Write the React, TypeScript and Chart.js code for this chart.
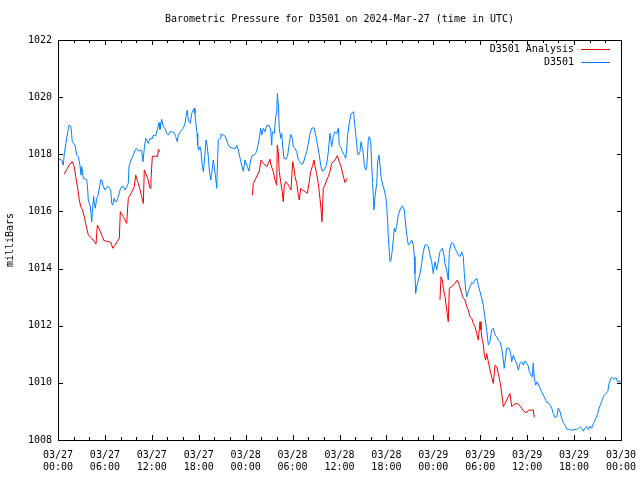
import React, { useEffect, useRef } from "react";
import { Chart, registerables } from "chart.js";

Chart.register(...registerables);

const TITLE = "Barometric Pressure for D3501 on 2024-Mar-27 (time in UTC)";
const Y_LABEL = "milliBars";
const ANALYSIS_LABEL = "D3501 Analysis";
const OBS_LABEL = "D3501";

// x axis: hours since 2024-03-27 00:00 UTC
const X_MIN = 0;
const X_MAX = 72;
const Y_MIN = 1008;
const Y_MAX = 1022;
const Y_STEP = 2;
const X_MAJOR_STEP = 6;
const X_MINOR_STEP = 2;

const xTickDates = ["03/27", "03/27", "03/27", "03/27", "03/28", "03/28", "03/28", "03/28", "03/29", "03/29", "03/29", "03/29", "03/30"];
const xTickTimes = ["00:00", "06:00", "12:00", "18:00", "00:00", "06:00", "12:00", "18:00", "00:00", "06:00", "12:00", "18:00", "00:00"];

// Observed pressure (D3501)
const obsHours = [
  0.00, 0.26, 0.47, 0.68, 0.81, 1.11, 1.41, 1.66, 1.83, 2.17, 2.39, 2.60, 2.81, 2.94, 3.03, 3.24, 3.67, 3.80, 3.87, 4.09,
  4.22, 4.31, 4.44, 4.57, 4.64, 4.77, 4.95, 5.08, 5.24, 5.46, 5.59, 5.72, 6.01, 6.23, 6.43, 6.56, 6.74, 6.87, 7.00, 7.16,
  7.29, 7.51, 7.71, 7.93, 8.15, 8.35, 8.57, 8.79, 8.99, 9.08, 9.34, 9.63, 9.85, 10.06, 10.27, 10.49, 10.70, 10.87, 11.04, 11.22,
  11.34, 11.55, 11.77, 12.02, 12.19, 12.49, 12.75, 12.92, 13.04, 13.26, 13.47, 13.68, 13.90, 14.11, 14.32, 14.54, 14.83, 15.05, 15.26, 15.38,
  15.60, 15.82, 16.02, 16.24, 16.37, 16.53, 16.66, 16.79, 16.92, 17.10, 17.30, 17.43, 17.52, 17.61, 17.78, 17.87, 17.99, 18.16, 18.29, 18.46,
  18.59, 18.80, 18.93, 19.09, 19.22, 19.35, 19.53, 19.66, 19.86, 19.99, 20.17, 20.30, 20.42, 20.50, 20.72, 20.84, 21.14, 21.36, 21.57, 21.78,
  22.00, 22.42, 22.73, 22.85, 23.06, 23.27, 23.49, 23.70, 23.91, 24.21, 24.43, 24.64, 24.85, 25.07, 25.28, 25.49, 25.71, 25.92, 26.05, 26.26,
  26.47, 26.69, 26.98, 27.20, 27.33, 27.41, 27.66, 27.84, 27.97, 28.05, 28.18, 28.30, 28.48, 28.61, 28.74, 28.90, 29.16, 29.37, 29.58, 29.76,
  29.97, 30.09, 30.31, 30.53, 30.73, 30.95, 31.16, 31.37, 31.59, 31.80, 32.01, 32.23, 32.44, 32.74, 33.00, 33.21, 33.42, 33.59, 33.80, 34.02,
  34.27, 34.44, 34.57, 34.78, 35.00, 35.21, 35.42, 35.64, 35.85, 35.97, 36.15, 36.36, 36.62, 36.79, 36.92, 37.04, 37.21, 37.43, 37.64, 37.81,
  37.89, 38.07, 38.20, 38.28, 38.40, 38.62, 38.75, 38.92, 39.04, 39.17, 39.35, 39.48, 39.68, 39.81, 39.99, 40.12, 40.24, 40.41, 40.54, 40.76,
  40.88, 41.05, 41.18, 41.31, 41.53, 41.73, 41.91, 42.04, 42.16, 42.24, 42.46, 42.59, 42.75, 42.88, 43.01, 43.14, 43.31, 43.52, 43.74, 43.95,
  44.08, 44.29, 44.46, 44.63, 44.80, 45.02, 45.23, 45.44, 45.57, 45.65, 45.74, 45.87, 46.08, 46.30, 46.51, 46.72, 46.93, 47.15, 47.36, 47.57,
  47.79, 47.99, 48.21, 48.43, 48.63, 48.85, 49.15, 49.36, 49.49, 49.71, 49.91, 50.04, 50.22, 50.35, 50.55, 50.77, 50.99, 51.19, 51.41, 51.63,
  51.83, 51.96, 52.14, 52.27, 52.47, 52.69, 52.91, 53.11, 53.33, 53.55, 53.75, 53.97, 54.19, 54.39, 54.61, 54.83, 55.03, 55.25, 55.46, 55.67,
  55.89, 56.10, 56.31, 56.53, 56.74, 56.95, 57.07, 57.25, 57.38, 57.72, 57.89, 58.02, 58.23, 58.45, 58.66, 58.87, 59.09, 59.30, 59.51, 59.73,
  59.94, 60.14, 60.27, 60.49, 60.65, 60.78, 60.91, 61.09, 61.26, 61.42, 61.64, 61.86, 62.06, 62.28, 62.50, 62.70, 62.92, 63.14, 63.34, 63.56,
  63.78, 63.98, 64.20, 64.42, 64.62, 64.84, 65.06, 65.26, 65.48, 65.70, 65.90, 66.12, 66.34, 66.54, 66.76, 66.97, 67.18, 67.40, 67.61, 67.82,
  68.04, 68.25, 68.38, 68.59, 68.80, 69.02, 69.19, 69.44, 69.66, 69.86, 70.08, 70.30, 70.47, 70.72, 70.89, 71.12, 71.34, 71.59, 71.79, 72.00,
];
const obsPressure = [
  1017.85, 1017.82, 1017.80, 1017.62, 1018.03, 1018.56, 1019.02, 1018.97, 1018.44, 1018.32, 1017.97, 1017.92, 1017.62, 1017.27, 1017.57, 1017.16, 1017.12, 1016.75, 1016.40, 1016.22,
  1015.93, 1015.64, 1016.17, 1016.52, 1016.28, 1016.11, 1016.46, 1016.52, 1016.75, 1017.10, 1017.12, 1016.92, 1016.75, 1016.84, 1016.87, 1016.81, 1016.75, 1016.28, 1016.22, 1016.46,
  1016.36, 1016.34, 1016.52, 1016.75, 1016.87, 1016.87, 1016.75, 1016.87, 1016.98, 1017.57, 1017.80, 1017.97, 1018.15, 1018.21, 1018.11, 1018.15, 1018.13, 1017.74, 1018.21, 1018.56,
  1018.50, 1018.38, 1018.56, 1018.53, 1018.67, 1018.64, 1018.91, 1019.11, 1018.87, 1019.22, 1018.97, 1018.91, 1018.73, 1018.67, 1018.79, 1018.79, 1018.76, 1018.62, 1018.44, 1018.67,
  1018.76, 1018.85, 1018.91, 1019.08, 1019.32, 1019.55, 1019.20, 1019.14, 1019.08, 1019.43, 1019.55, 1019.61, 1019.43, 1019.14, 1018.73, 1018.32, 1018.15, 1018.27, 1018.09, 1017.57,
  1017.39, 1018.03, 1018.50, 1018.27, 1017.92, 1017.45, 1017.10, 1017.33, 1017.80, 1017.57, 1017.16, 1016.81, 1017.92, 1018.50, 1018.56, 1018.71, 1018.67, 1018.64, 1018.50, 1018.32,
  1018.24, 1018.21, 1018.21, 1018.32, 1018.15, 1017.88, 1017.62, 1017.41, 1017.80, 1017.57, 1017.41, 1017.80, 1017.97, 1017.97, 1018.03, 1018.21, 1018.50, 1018.91, 1018.67, 1018.91,
  1018.79, 1019.00, 1019.02, 1018.85, 1018.32, 1018.79, 1018.73, 1019.32, 1019.43, 1020.13, 1019.72, 1018.91, 1018.56, 1018.73, 1018.27, 1017.86, 1017.83, 1017.97, 1018.38, 1018.70,
  1018.56, 1018.27, 1018.21, 1018.09, 1017.80, 1017.74, 1017.65, 1017.68, 1017.92, 1018.09, 1018.38, 1018.73, 1018.91, 1018.93, 1018.62, 1018.27, 1017.97, 1017.62, 1017.41, 1017.45,
  1017.57, 1017.80, 1018.09, 1018.73, 1018.27, 1018.62, 1018.79, 1018.73, 1018.91, 1018.32, 1018.27, 1018.09, 1017.97, 1017.86, 1018.15, 1018.67, 1019.02, 1019.37, 1019.46, 1019.49,
  1019.20, 1018.73, 1018.38, 1018.09, 1017.97, 1018.09, 1018.44, 1018.21, 1018.03, 1017.62, 1017.45, 1017.51, 1018.50, 1018.62, 1018.44, 1017.62, 1016.98, 1016.05, 1016.52, 1016.98,
  1017.74, 1017.97, 1017.62, 1017.22, 1016.92, 1016.75, 1016.52, 1016.17, 1015.64, 1015.12, 1014.24, 1014.30, 1014.65, 1015.00, 1015.41, 1015.29, 1015.47, 1015.88, 1016.05, 1016.17,
  1016.19, 1016.05, 1015.52, 1015.12, 1014.83, 1014.88, 1015.00, 1014.83, 1014.42, 1013.83, 1013.13, 1013.37, 1013.60, 1013.83, 1014.18, 1014.59, 1014.83, 1014.83, 1014.77, 1014.47,
  1014.24, 1013.83, 1014.24, 1013.95, 1014.24, 1014.59, 1014.71, 1014.47, 1014.18, 1013.95, 1013.60, 1014.53, 1014.83, 1014.90, 1014.88, 1014.71, 1014.59, 1014.47, 1014.42, 1014.59,
  1014.42, 1013.83, 1013.25, 1013.02, 1013.19, 1013.37, 1013.51, 1013.48, 1013.60, 1013.66, 1013.42, 1013.19, 1012.96, 1012.72, 1012.26, 1011.85, 1011.33, 1011.44, 1011.85, 1011.91,
  1011.67, 1011.62, 1011.50, 1011.44, 1011.21, 1010.80, 1010.51, 1010.92, 1011.21, 1011.21, 1011.03, 1010.74, 1010.97, 1010.80, 1010.68, 1010.45, 1010.68, 1010.74, 1010.62, 1010.77,
  1010.68, 1010.59, 1010.39, 1010.27, 1010.21, 1010.70, 1010.16, 1009.92, 1010.04, 1009.96, 1009.81, 1009.69, 1009.57, 1009.46, 1009.31, 1009.31, 1009.22, 1009.11, 1008.93, 1008.79,
  1008.81, 1009.11, 1008.99, 1008.76, 1008.61, 1008.52, 1008.38, 1008.38, 1008.37, 1008.33, 1008.37, 1008.37, 1008.37, 1008.41, 1008.47, 1008.41, 1008.31, 1008.41, 1008.47, 1008.37,
  1008.49, 1008.41, 1008.52, 1008.64, 1008.76, 1008.93, 1009.11, 1009.28, 1009.46, 1009.57, 1009.63, 1009.69, 1009.98, 1010.16, 1010.19, 1010.12, 1010.19, 1010.04, 1010.07, 1009.96,
];

// Analysis pressure (D3501 Analysis) - three separate runs
const analysisHours = [
  0.81, 1.11, 1.53, 1.83, 2.08, 2.26, 2.52, 2.69, 2.90, 3.11, 3.36, 3.54, 3.87, 4.31, 4.64, 4.86, 5.03, 5.37, 5.67, 5.88,
  6.43, 6.78, 7.00, 7.29, 7.71, 7.84, 7.97, 8.35, 8.79, 8.99, 9.34, 9.76, 9.94, 10.19, 10.45, 10.70, 10.91, 11.04, 11.47, 11.77,
  11.89, 12.06, 12.49, 12.75, 12.83, 13.00,
  24.85, 24.98, 25.19, 25.49, 25.75, 25.96, 26.26, 26.69, 26.90, 27.11, 27.24, 27.53, 27.75, 27.97, 28.04, 28.17, 28.30, 28.48, 28.68, 28.81,
  28.94, 29.12, 29.32, 29.58, 29.80, 30.01, 30.18, 30.31, 30.53, 30.73, 30.86, 31.04, 31.29, 31.59, 31.88, 32.10, 32.32, 32.57, 32.74, 32.87,
  33.08, 33.29, 33.50, 33.63, 33.76, 33.93, 34.14, 34.36, 34.57, 34.78, 35.00, 35.42, 35.72, 35.97, 36.19, 36.41, 36.70, 37.00,
  48.85, 48.98, 49.15, 49.28, 49.49, 49.71, 49.91, 50.04, 50.35, 50.77, 51.07, 51.32, 51.63, 51.83, 52.05, 52.27, 52.47, 52.69, 52.91, 53.11,
  53.33, 53.55, 53.75, 53.97, 54.09, 54.22, 54.39, 54.52, 54.69, 54.83, 55.03, 55.25, 55.46, 55.67, 55.89, 56.10, 56.31, 56.53, 56.74, 56.95,
  57.16, 57.38, 57.59, 57.80, 58.02, 58.23, 58.45, 58.75, 59.00, 59.30, 59.63, 59.85, 60.14, 60.36, 60.78, 60.91,
];
const analysisPressure = [
  1017.31, 1017.47, 1017.66, 1017.74, 1017.57, 1017.22, 1016.81, 1016.46, 1016.17, 1016.07, 1015.82, 1015.58, 1015.18, 1015.06, 1014.94, 1014.86, 1015.52, 1015.32, 1015.12, 1014.98,
  1014.94, 1014.91, 1014.71, 1014.82, 1015.00, 1015.06, 1015.99, 1015.82, 1015.58, 1016.46, 1016.63, 1016.87, 1017.27, 1017.04, 1016.81, 1016.52, 1016.28, 1017.45, 1017.16, 1016.81,
  1017.10, 1017.92, 1017.94, 1017.92, 1018.17, 1018.09,
  1016.57, 1016.98, 1017.10, 1017.27, 1017.41, 1017.80, 1017.68, 1017.57, 1017.68, 1017.83, 1017.62, 1017.39, 1017.10, 1016.92, 1018.32, 1018.09, 1017.39, 1017.04, 1016.69, 1016.34,
  1016.92, 1017.04, 1016.98, 1016.87, 1016.75, 1017.74, 1017.51, 1017.22, 1016.98, 1016.57, 1016.40, 1016.81, 1016.75, 1016.69, 1016.63, 1016.98, 1017.39, 1017.62, 1017.80, 1017.57,
  1017.33, 1016.98, 1016.46, 1016.11, 1015.64, 1016.81, 1016.92, 1017.10, 1017.22, 1017.39, 1017.68, 1017.80, 1017.95, 1017.74, 1017.57, 1017.33, 1017.01, 1017.16,
  1012.90, 1013.71, 1013.60, 1013.31, 1013.02, 1012.55, 1012.14, 1013.31, 1013.37, 1013.48, 1013.60, 1013.42, 1013.13, 1012.96, 1012.90, 1012.67, 1012.55, 1012.32, 1012.26, 1012.08,
  1011.97, 1011.73, 1011.50, 1012.14, 1011.85, 1011.56, 1011.33, 1010.97, 1010.80, 1011.03, 1010.74, 1010.45, 1010.21, 1009.98, 1010.62, 1010.57, 1010.33, 1010.04, 1009.63, 1009.17,
  1009.28, 1009.40, 1009.51, 1009.63, 1009.17, 1009.22, 1009.26, 1009.28, 1009.22, 1009.11, 1008.99, 1008.96, 1009.03, 1009.05, 1009.05, 1008.79,
];

const ANALYSIS_COLOR = "#ee0000";
const OBS_COLOR = "#0080ff";
const FONT_FAMILY = "'DejaVu Sans Mono', 'Liberation Mono', monospace";

function toPoints(hours: number[], values: number[], maxGap: number) {
  const pts: { x: number; y: number | null }[] = [];
  for (let i = 0; i < hours.length; i++) {
    if (i > 0 && hours[i] - hours[i - 1] > maxGap) {
      pts.push({ x: (hours[i] + hours[i - 1]) / 2, y: null });
    }
    pts.push({ x: hours[i], y: values[i] });
  }
  return pts;
}

const frameAndLegend = {
  id: "frameAndLegend",
  afterDraw(chart: any) {
    const { ctx, chartArea, scales } = chart;
    const { left, right, top, bottom } = chartArea;
    const xs = scales.x;
    const ys = scales.y;
    const L = Math.round(left);
    const R = Math.round(right);
    const T = Math.round(top);
    const B = Math.round(bottom);
    ctx.save();
    ctx.strokeStyle = "#000";
    ctx.lineWidth = 1;
    ctx.beginPath();
    ctx.rect(L + 0.5, T + 0.5, R - L, B - T);
    ctx.stroke();

    // tick marks (inward, mirrored)
    ctx.beginPath();
    for (let h = X_MIN; h <= X_MAX; h += X_MINOR_STEP) {
      const px = Math.round(xs.getPixelForValue(h)) + 0.5;
      const len = h % X_MAJOR_STEP === 0 ? 5 : 3;
      ctx.moveTo(px, B);
      ctx.lineTo(px, B - len);
      ctx.moveTo(px, T);
      ctx.lineTo(px, T + len);
    }
    for (let v = Y_MIN; v <= Y_MAX; v += Y_STEP) {
      const py = Math.round(ys.getPixelForValue(v)) + 0.5;
      ctx.moveTo(L, py);
      ctx.lineTo(L + 5, py);
      ctx.moveTo(R + 1, py);
      ctx.lineTo(R + 1 - 5, py);
    }
    ctx.stroke();

    // legend inside the plot, top right
    ctx.font = `10px ${FONT_FAMILY}`;
    ctx.textAlign = "right";
    ctx.textBaseline = "middle";
    chart.data.datasets.forEach((ds: any, i: number) => {
      const y = T + 9.5 + i * 13;
      ctx.fillStyle = "#000";
      ctx.fillText(ds.label, R - 47, y);
      ctx.strokeStyle = ds.borderColor;
      ctx.beginPath();
      ctx.moveTo(R - 40, y);
      ctx.lineTo(R - 11, y);
      ctx.stroke();
    });
    ctx.restore();
  },
};

export default function App() {
  const ref = useRef<HTMLCanvasElement>(null);

  useEffect(() => {
    if (!ref.current) return;
    const font = { family: FONT_FAMILY, size: 10, weight: "normal" as const };
    const chart = new Chart(ref.current, {
      type: "line",
      data: {
        datasets: [
          {
            label: ANALYSIS_LABEL,
            data: toPoints(analysisHours, analysisPressure, 3),
            borderColor: ANALYSIS_COLOR,
            borderWidth: 1,
            pointRadius: 0,
            tension: 0,
            spanGaps: false,
            fill: false,
          },
          {
            label: OBS_LABEL,
            data: toPoints(obsHours, obsPressure, 3),
            borderColor: OBS_COLOR,
            borderWidth: 1,
            pointRadius: 0,
            tension: 0,
            spanGaps: false,
            fill: false,
          },
        ],
      },
      options: {
        responsive: false,
        animation: false,
        devicePixelRatio: 1,
        layout: { padding: { left: 0, right: 19, top: 0, bottom: 0 } },
        plugins: {
          legend: { display: false },
          tooltip: { enabled: false },
          title: {
            display: true,
            text: TITLE,
            fullSize: false,
            color: "#000",
            font,
            padding: { top: 13, bottom: 15 },
          },
        },
        scales: {
          x: {
            type: "linear",
            min: X_MIN,
            max: X_MAX,
            grid: { display: false, drawTicks: true, tickLength: 9 },
            border: { display: false },
            ticks: {
              stepSize: X_MAJOR_STEP,
              autoSkip: false,
              maxRotation: 0,
              padding: 0,
              color: "#000",
              font,
              callback: (v: any) => {
                const idx = Math.round(Number(v) / X_MAJOR_STEP);
                return [xTickDates[idx] ?? "", xTickTimes[idx] ?? ""];
              },
            },
            afterFit: (s: any) => {
              s.height = 40;
            },
          },
          y: {
            min: Y_MIN,
            max: Y_MAX,
            grid: { display: false, drawTicks: false },
            border: { display: false },
            ticks: {
              stepSize: Y_STEP,
              padding: 6,
              color: "#000",
              font,
              callback: (v: any) => String(v),
            },
            title: {
              display: true,
              text: Y_LABEL,
              color: "#000",
              font,
              padding: { top: 4, bottom: 0 },
            },
            afterFit: (s: any) => {
              s.width = 58;
            },
          },
        },
      },
      plugins: [frameAndLegend],
    });
    return () => chart.destroy();
  }, []);

  return (
    <div style={{ position: "fixed", left: 0, top: 0, width: 640, height: 480, background: "#fff" }}>
      <canvas ref={ref} width={640} height={480} style={{ display: "block" }} />
    </div>
  );
}
